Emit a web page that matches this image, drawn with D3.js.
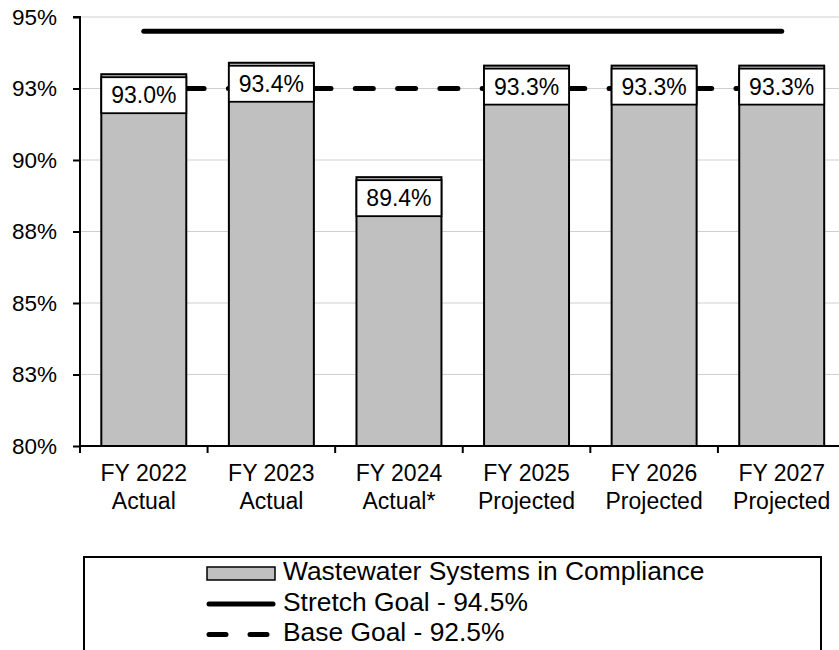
<!DOCTYPE html>
<html>
<head>
<meta charset="utf-8">
<script src="https://cdn.jsdelivr.net/npm/d3@7"></script>
<style>
  html, body { margin: 0; padding: 0; background: #fff; }
  svg { display: block; font-family: "Liberation Sans", Arial, sans-serif; }
</style>
</head>
<body>
<svg id="chart" width="839" height="650"></svg>
<script>
const categories = [
  ["FY 2022", "Actual"],
  ["FY 2023", "Actual"],
  ["FY 2024", "Actual*"],
  ["FY 2025", "Projected"],
  ["FY 2026", "Projected"],
  ["FY 2027", "Projected"]
];
const compliance = [93.0, 93.4, 89.4, 93.3, 93.3, 93.3];
const stretchGoal = [94.5, 94.5, 94.5, 94.5, 94.5, 94.5];
const baseGoal = [92.5, 92.5, 92.5, 92.5, 92.5, 92.5];
const yTicks = [80, 82.5, 85, 87.5, 90, 92.5, 95];
const legendLabels = ["Wastewater Systems in Compliance", "Stretch Goal - 94.5%", "Base Goal - 92.5%"];

(function () {
const svg = d3.select("#chart");
const pLeft = 80, pRight = 845.5, pTop = 17, pBottom = 446;

const keys = categories.map((c, i) => i);
const x = d3.scaleBand().domain(keys).range([pLeft, pRight]).paddingInner(0.334).paddingOuter(0.167);
const y = d3.scaleLinear().domain([80, 95]).range([pBottom, pTop]);

// gridlines
svg.append("g").selectAll("line").data(yTicks).join("line")
  .attr("x1", pLeft).attr("x2", 839)
  .attr("y1", d => y(d)).attr("y2", d => y(d))
  .attr("stroke", "#cfcfcf").attr("stroke-width", 1);

// bars
svg.append("g").selectAll("rect").data(compliance).join("rect")
  .attr("x", (d, i) => x(i)).attr("width", x.bandwidth())
  .attr("y", d => y(d)).attr("height", d => y(80) - y(d))
  .attr("fill", "#c0c0c0").attr("stroke", "#000").attr("stroke-width", 2);

// goal lines
const line = d3.line().x((d, i) => x(i) + x.bandwidth() / 2).y(d => y(d));
svg.append("path").datum(stretchGoal).attr("d", line)
  .attr("fill", "none").attr("stroke", "#000").attr("stroke-width", 5)
  .attr("stroke-linecap", "round");
svg.append("path").datum(baseGoal).attr("d", line)
  .attr("fill", "none").attr("stroke", "#000").attr("stroke-width", 5)
  .attr("stroke-linecap", "round").attr("stroke-dasharray", "18,24.3");

// data labels
const lab = svg.append("g").selectAll("g").data(compliance).join("g")
  .attr("transform", (d, i) => `translate(${x(i)},${y(d) + 3})`);
lab.append("rect").attr("width", x.bandwidth()).attr("height", 36)
  .attr("fill", "#fff").attr("stroke", "#000").attr("stroke-width", 1.8);
lab.append("text").attr("x", x.bandwidth() / 2).attr("y", 18).attr("dy", "0.35em")
  .attr("text-anchor", "middle").attr("font-size", 23).attr("fill", "#000")
  .text(d => d3.format(".1f")(d) + "%");

// y axis
const yAxis = d3.axisLeft(y).tickValues(yTicks).tickSize(7).tickPadding(16)
  .tickFormat(d => d3.format(".0f")(Math.round(d + 0.001)) + "%");
const gy = svg.append("g").attr("transform", `translate(${pLeft},0)`).call(yAxis);
gy.select(".domain").attr("stroke", "#000").attr("stroke-width", 2).attr("d", `M-7,${pTop}H0V${pBottom}`);
gy.selectAll(".tick line").attr("stroke", "#000").attr("stroke-width", 2);
gy.selectAll(".tick text").attr("font-size", 22.5).attr("fill", "#000")
  .attr("font-family", "Liberation Sans, Arial, sans-serif");

// x axis
svg.append("line").attr("x1", pLeft).attr("x2", 839).attr("y1", pBottom).attr("y2", pBottom)
  .attr("stroke", "#000").attr("stroke-width", 2);
const bounds = keys.map(i => x(i) - x.step() * x.paddingInner() / 2).concat([pRight]);
svg.append("g").selectAll("line").data(bounds).join("line")
  .attr("x1", d => d).attr("x2", d => d).attr("y1", pBottom).attr("y2", pBottom + 7)
  .attr("stroke", "#000").attr("stroke-width", 2);
const xl = svg.append("g").selectAll("text").data(categories).join("text")
  .attr("x", (d, i) => x(i) + x.bandwidth() / 2)
  .attr("text-anchor", "middle").attr("font-size", 23).attr("fill", "#000");
xl.append("tspan").attr("x", (d, i) => x(i) + x.bandwidth() / 2).attr("y", 481).text(d => d[0]);
xl.append("tspan").attr("x", (d, i) => x(i) + x.bandwidth() / 2).attr("y", 509).text(d => d[1]);

// legend
const lg = svg.append("g");
lg.append("rect").attr("x", 84).attr("y", 557).attr("width", 737).attr("height", 120)
  .attr("fill", "#fff").attr("stroke", "#000").attr("stroke-width", 2);
const rows = [573.5, 604, 634.5];
lg.append("rect").attr("x", 207).attr("y", rows[0] - 6.5).attr("width", 68).attr("height", 13)
  .attr("fill", "#c0c0c0").attr("stroke", "#000").attr("stroke-width", 1.5);
lg.append("line").attr("x1", 209).attr("x2", 273).attr("y1", rows[1]).attr("y2", rows[1])
  .attr("stroke", "#000").attr("stroke-width", 5).attr("stroke-linecap", "round");
lg.append("line").attr("x1", 209).attr("x2", 273).attr("y1", rows[2]).attr("y2", rows[2])
  .attr("stroke", "#000").attr("stroke-width", 5).attr("stroke-linecap", "round")
  .attr("stroke-dasharray", "17,24");
lg.selectAll("text").data(legendLabels).join("text")
  .attr("x", 283).attr("y", (d, i) => rows[i] + 6.8)
  .attr("font-size", 26.4).attr("fill", "#000").text(d => d);
})();
</script>
</body>
</html>
